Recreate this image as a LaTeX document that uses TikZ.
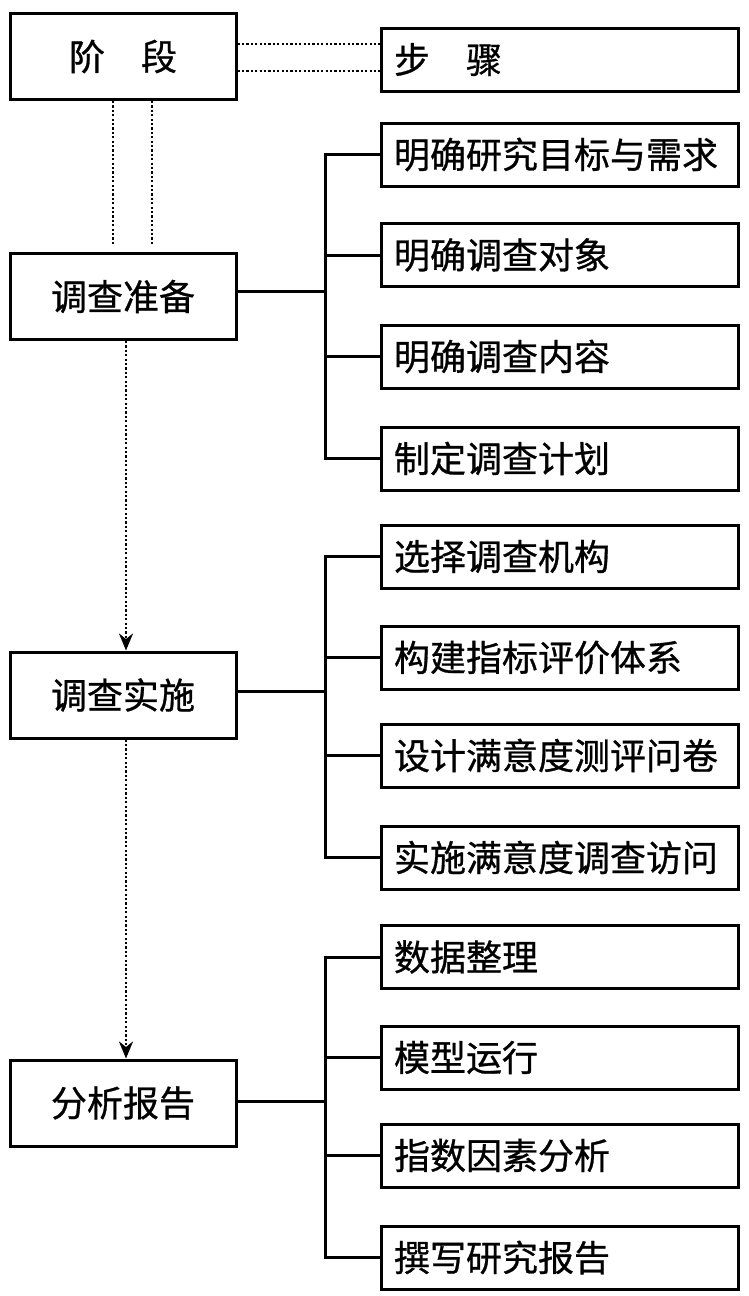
\documentclass[tikz,border=0pt]{standalone}
\usepackage{fontspec}
\newfontfamily\cjk[FakeBold=0.8]{Noto Sans CJK SC}
\usepackage{tikz}
\usetikzlibrary{arrows.meta,positioning,calc}

\begin{document}
\begin{tikzpicture}[
  x=1pt, y=-1pt,
  stage/.style={draw, line width=3pt, minimum width=226pt, minimum height=86pt,
                inner sep=0pt, font=\cjk\fontsize{36}{40}\selectfont},
  stepbox/.style={draw, line width=3pt, minimum height=63pt, text width=331pt,
                  inner xsep=13pt, inner ysep=0pt, align=left,
                  font=\cjk\fontsize{36}{40}\selectfont},
  tie/.style={line width=3pt},
  dotline/.style={line width=2.6pt, dash pattern=on 2.2pt off 2.2pt},
]
\useasboundingbox (0,0) rectangle (749,1296);

% left column: stages
\node[stage] (jd) at (123,56.5) {阶\hspace{1em}段};
\node[stage] (zb) at (123,296.5) {调查准备};
\node[stage] (ss) at (123,695) {调查实施};
\node[stage] (fx) at (123,1103) {分析报告};

% right column: steps
\node[stepbox] (bz) at (559.5,59.5) {步\hspace{1em}骤};

\node[stepbox] (a1) at (559.5,154.5) {明确研究目标与需求};
\node[stepbox] (a2) at (559.5,255) {明确调查对象};
\node[stepbox] (a3) at (559.5,356.5) {明确调查内容};
\node[stepbox] (a4) at (559.5,458.5) {制定调查计划};

\node[stepbox] (b1) at (559.5,556.5) {选择调查机构};
\node[stepbox] (b2) at (559.5,657.5) {构建指标评价体系};
\node[stepbox] (b3) at (559.5,755.5) {设计满意度测评问卷};
\node[stepbox] (b4) at (559.5,857.5) {实施满意度调查访问};

\node[stepbox] (c1) at (559.5,957) {数据整理};
\node[stepbox] (c2) at (559.5,1057.5) {模型运行};
\node[stepbox] (c3) at (559.5,1155.5) {指数因素分析};
\node[stepbox] (c4) at (559.5,1257.5) {撰写研究报告};

\coordinate (bus) at (325,0);

% header links
\draw[dotline] ([yshift=-14.5pt]jd.east) -- ([yshift=-14.5pt]jd.east -| bz.west);
\draw[dotline] ([yshift=12.5pt]jd.east) -- ([yshift=12.5pt]jd.east -| bz.west);
\draw[dotline] ([xshift=-10pt]jd.south) -- ([xshift=-10pt,yshift=8pt]jd.south |- zb.north);
\draw[dotline] ([xshift=29pt]jd.south) -- ([xshift=29pt,yshift=8pt]jd.south |- zb.north);

% stage flow
\draw[dotline, -{Stealth[length=17pt,width=14pt]}] ([xshift=3pt]zb.south) -- ([xshift=3pt]ss.north);
\draw[dotline, -{Stealth[length=17pt,width=14pt]}] ([xshift=3pt]ss.south) -- ([xshift=3pt]fx.north);

% brackets
\draw[tie] (a1.west) -| (bus |- a4.west) -- (a4.west);
\draw[tie] (a2.west) -- (a2.west -| bus);
\draw[tie] (a3.west) -- (a3.west -| bus);
\draw[tie] ([yshift=5pt]zb.east) -- ([yshift=5pt]zb.east -| bus);

\draw[tie] (b1.west) -| (bus |- b4.west) -- (b4.west);
\draw[tie] (b2.west) -- (b2.west -| bus);
\draw[tie] (b3.west) -- (b3.west -| bus);
\draw[tie] ([yshift=4pt]ss.east) -- ([yshift=4pt]ss.east -| bus);

\draw[tie] (c1.west) -| (bus |- c4.west) -- (c4.west);
\draw[tie] (c2.west) -- (c2.west -| bus);
\draw[tie] (c3.west) -- (c3.west -| bus);
\draw[tie] ([yshift=2pt]fx.east) -- ([yshift=2pt]fx.east -| bus);
\end{tikzpicture}
\end{document}
